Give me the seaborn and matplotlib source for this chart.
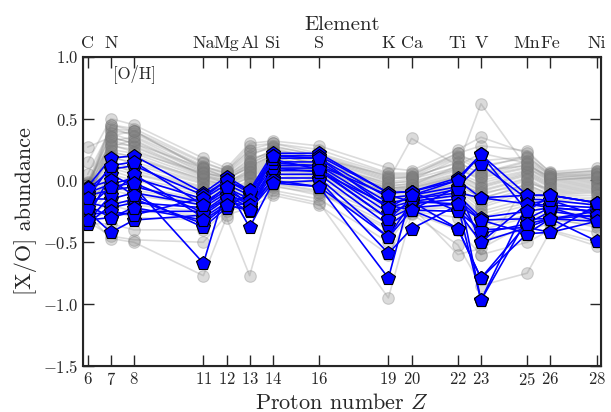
import matplotlib
matplotlib.use("Agg")
import matplotlib.pyplot as plt
import pandas as pd
import seaborn as sns

# Proton numbers and element symbols
proton_z = [6, 7, 8, 11, 12, 13, 14, 16, 19, 20, 22, 23, 25, 26, 28]
elements = ['C', 'N', '', 'Na', 'Mg', 'Al', 'Si', 'S', 'K', 'Ca', 'Ti', 'V', 'Mn', 'Fe', 'Ni']

# Background sample (gray), [X/O] per element
gray_stars = [
    [-0.02, 0.45, 0.42, 0.15, 0.08, 0.25, 0.30, 0.22, 0.05, 0.05, 0.20, 0.10, 0.20, 0.05, 0.08],
    [-0.05, 0.40, 0.38, 0.12, 0.05, 0.20, 0.28, 0.20, 0.02, 0.02, 0.15, 0.05, 0.15, 0.02, 0.05],
    [0.15, 0.50, 0.45, 0.18, 0.10, 0.30, 0.32, 0.28, 0.10, 0.08, 0.25, 0.35, 0.22, 0.07, 0.10],
    [0.27, 0.35, 0.30, 0.10, 0.02, 0.15, 0.25, 0.18, 0.00, 0.34, 0.12, 0.62, 0.10, 0.00, 0.02],
    [-0.08, 0.30, 0.28, 0.05, 0.00, 0.12, 0.20, 0.15, -0.05, -0.02, 0.10, 0.00, 0.08, -0.02, 0.00],
    [-0.10, 0.25, 0.22, 0.02, -0.02, 0.08, 0.18, 0.12, -0.08, -0.05, 0.05, -0.05, 0.05, -0.05, -0.03],
    [-0.12, 0.22, 0.20, 0.00, -0.03, 0.05, 0.15, 0.10, -0.10, -0.08, 0.02, -0.08, 0.02, -0.08, -0.06],
    [-0.15, 0.18, 0.15, -0.02, -0.05, 0.02, 0.12, 0.08, -0.12, -0.10, 0.00, -0.12, 0.00, -0.10, -0.08],
    [-0.05, 0.32, 0.35, 0.08, 0.03, 0.18, 0.22, 0.16, -0.03, 0.00, 0.18, 0.08, 0.12, 0.03, 0.04],
    [-0.18, 0.15, 0.10, -0.05, -0.08, 0.00, 0.10, 0.05, -0.15, -0.12, -0.02, -0.15, -0.03, -0.12, -0.10],
    [-0.20, 0.10, 0.05, -0.08, -0.10, -0.05, 0.08, 0.03, -0.18, -0.14, -0.05, -0.18, -0.06, -0.15, -0.14],
    [-0.22, 0.05, 0.00, -0.12, -0.12, -0.08, 0.05, 0.00, -0.22, -0.16, -0.08, -0.22, -0.10, -0.18, -0.18],
    [-0.25, 0.00, -0.05, -0.15, -0.15, -0.10, 0.03, -0.02, -0.25, -0.18, -0.10, -0.25, -0.15, -0.20, -0.22],
    [-0.28, -0.08, -0.12, -0.20, -0.18, -0.12, 0.00, -0.05, -0.30, -0.20, -0.15, -0.30, -0.20, -0.25, -0.28],
    [-0.30, -0.15, -0.20, -0.25, -0.20, -0.15, -0.02, -0.08, -0.35, -0.22, -0.20, -0.35, -0.25, -0.28, -0.32],
    [-0.32, -0.25, -0.30, -0.32, -0.22, -0.18, -0.05, -0.10, -0.40, -0.24, -0.25, -0.40, -0.30, -0.32, -0.36],
    [-0.35, -0.35, -0.40, -0.40, -0.25, -0.20, -0.08, -0.15, -0.50, -0.25, -0.30, -0.48, -0.40, -0.35, -0.42],
    [-0.33, -0.45, -0.48, -0.50, -0.28, -0.22, -0.12, -0.20, -0.60, -0.26, -0.40, -0.60, -0.50, -0.40, -0.50],
    [-0.28, -0.47, -0.50, -0.77, -0.30, -0.77, -0.10, -0.18, -0.95, -0.27, -0.52, -0.85, -0.75, -0.41, -0.53],
    [0.05, 0.42, 0.40, 0.10, 0.06, 0.22, 0.26, 0.18, 0.04, 0.04, 0.22, 0.12, 0.18, 0.04, 0.06],
    [-0.06, 0.38, 0.32, 0.06, 0.02, 0.10, 0.20, 0.14, -0.04, -0.03, 0.08, 0.02, 0.10, -0.01, 0.01],
    [-0.14, 0.28, 0.25, 0.03, -0.01, 0.06, 0.16, 0.10, -0.06, -0.06, 0.04, -0.04, 0.06, -0.04, -0.02],
    [-0.16, 0.12, 0.08, -0.06, -0.07, -0.02, 0.10, 0.06, -0.14, -0.11, -0.03, -0.10, -0.04, -0.11, -0.09],
    [-0.24, 0.08, 0.02, -0.10, -0.11, -0.06, 0.06, 0.02, -0.20, -0.15, -0.06, -0.20, -0.08, -0.16, -0.16],
    [-0.20, 0.35, 0.30, 0.04, 0.00, 0.14, 0.22, 0.12, -0.06, -0.04, 0.12, 0.22, 0.14, 0.00, 0.03],
    [-0.10, 0.20, 0.18, -0.01, -0.04, 0.04, 0.14, 0.08, -0.09, -0.07, 0.03, -0.60, -0.02, -0.07, -0.05],
    [-0.12, -0.05, -0.10, -0.18, -0.16, -0.12, -0.04, -0.12, -0.28, -0.21, -0.60, -0.55, -0.35, -0.30, -0.38],
    [-0.08, 0.45, 0.40, 0.14, 0.08, 0.28, 0.30, 0.25, 0.06, 0.06, 0.22, 0.28, 0.24, 0.06, 0.08],
    [-0.03, 0.36, 0.40, 0.09, 0.04, 0.16, 0.24, 0.19, 0.01, 0.03, 0.14, 0.06, 0.16, 0.04, 0.05],
    [-0.07, 0.27, 0.33, 0.07, 0.01, 0.11, 0.21, 0.13, -0.02, -0.01, 0.09, 0.03, 0.11, 0.01, 0.02],
    [-0.09, 0.33, 0.27, 0.04, -0.02, 0.09, 0.19, 0.11, -0.07, -0.04, 0.06, -0.02, 0.07, -0.03, -0.01],
    [-0.11, 0.24, 0.18, 0.01, -0.04, 0.07, 0.17, 0.09, -0.09, -0.06, 0.03, -0.06, 0.04, -0.06, -0.04],
    [-0.13, 0.20, 0.13, -0.03, -0.06, 0.03, 0.13, 0.07, -0.11, -0.09, 0.01, -0.09, 0.01, -0.09, -0.07],
    [-0.17, 0.14, 0.06, -0.07, -0.09, -0.03, 0.09, 0.04, -0.16, -0.13, -0.04, -0.14, -0.05, -0.13, -0.12],
    [-0.04, 0.43, 0.36, 0.11, 0.07, 0.24, 0.27, 0.21, 0.03, 0.03, 0.19, 0.16, 0.19, 0.05, 0.07],
    [-0.19, -0.02, -0.08, -0.16, -0.14, -0.09, 0.01, -0.03, -0.27, -0.19, -0.12, -0.27, -0.18, -0.23, -0.25],
    [-0.26, -0.20, -0.25, -0.28, -0.21, -0.16, -0.03, -0.09, -0.38, -0.23, -0.22, -0.37, -0.28, -0.30, -0.34],
    [-0.01, 0.29, 0.23, 0.06, 0.03, 0.13, 0.23, 0.17, -0.01, 0.01, 0.11, 0.04, 0.13, 0.02, 0.03],
]

# Highlighted sample (blue pentagons)
blue_stars = [
    [-0.05, 0.18, 0.20, -0.10, 0.03, -0.08, 0.22, 0.22, -0.10, -0.09, 0.02, 0.21, -0.12, -0.12, -0.18],
    [-0.08, 0.09, 0.12, -0.12, 0.00, -0.10, 0.18, 0.18, -0.14, -0.12, -0.05, 0.13, -0.15, -0.16, -0.20],
    [-0.10, -0.03, 0.02, -0.15, -0.03, -0.12, 0.15, 0.15, -0.18, -0.15, -0.10, -0.14, -0.19, -0.20, -0.22],
    [-0.12, -0.08, -0.05, -0.18, -0.06, -0.15, 0.12, 0.12, -0.22, -0.17, -0.12, -0.30, -0.25, -0.22, -0.25],
    [-0.15, -0.15, -0.10, -0.20, -0.08, -0.18, 0.10, 0.10, -0.26, -0.19, -0.15, -0.32, -0.31, -0.31, -0.28],
    [-0.18, -0.22, -0.18, -0.22, -0.10, -0.20, 0.08, 0.08, -0.31, -0.22, -0.19, -0.43, -0.35, -0.25, -0.30],
    [-0.20, -0.30, -0.25, -0.25, -0.12, -0.22, 0.05, 0.05, -0.36, -0.24, -0.25, -0.50, -0.38, -0.42, -0.33],
    [-0.25, -0.42, -0.32, -0.28, -0.15, -0.25, 0.02, 0.02, -0.46, -0.17, -0.39, -0.79, -0.43, -0.31, -0.49],
    [-0.30, 0.05, -0.05, -0.67, -0.05, -0.38, -0.02, 0.00, -0.59, -0.39, -0.20, -0.97, -0.19, -0.22, -0.25],
    [-0.33, -0.12, 0.05, -0.30, -0.18, -0.20, 0.00, -0.05, -0.79, -0.09, 0.00, -0.14, -0.12, -0.12, -0.18],
    [-0.35, -0.20, -0.15, -0.35, -0.20, -0.24, 0.10, 0.07, -0.20, -0.24, -0.05, -0.97, -0.31, -0.22, -0.33],
    [-0.06, 0.00, -0.12, -0.38, -0.22, -0.10, 0.20, 0.20, -0.10, -0.09, -0.25, -0.40, -0.38, -0.31, -0.25],
    [-0.28, -0.25, -0.28, -0.14, 0.00, -0.08, 0.14, 0.12, -0.12, -0.17, -0.19, -0.32, -0.43, -0.42, -0.20],
    [-0.22, -0.05, -0.02, -0.26, -0.14, -0.16, 0.17, 0.09, -0.31, -0.15, -0.07, -0.50, -0.19, -0.16, -0.28],
    [-0.14, 0.12, 0.15, -0.20, -0.05, -0.20, 0.20, 0.18, -0.22, -0.12, 0.00, 0.21, -0.25, -0.12, -0.18],
    [-0.32, -0.30, -0.22, -0.32, -0.20, -0.24, -0.02, -0.05, -0.46, -0.24, -0.39, -0.79, -0.35, -0.31, -0.33],
]


def to_long(rows):
    records = []
    for i, row in enumerate(rows):
        for z, v in zip(proton_z, row):
            records.append({'star': i, 'Z': z, 'abund': v})
    return pd.DataFrame(records)


df_gray = to_long(gray_stars)
df_blue = to_long(blue_stars)

sns.set_style('ticks')
plt.rcParams['font.family'] = 'serif'
plt.rcParams['font.serif'] = ['cmr10', 'DejaVu Serif']
plt.rcParams['mathtext.fontset'] = 'cm'
plt.rcParams['axes.formatter.use_mathtext'] = True
plt.rcParams['axes.unicode_minus'] = True

fig = plt.figure(figsize=(6.11, 4.12), dpi=100)
ax = fig.add_axes([0.136, 0.112, 0.848, 0.750])

# gray background lines, then their circle markers a bit stronger
sns.lineplot(data=df_gray, x='Z', y='abund', units='star', estimator=None,
             color='gray', alpha=0.28, lw=1.2, ax=ax, legend=False)
sns.scatterplot(data=df_gray, x='Z', y='abund', color='gray', alpha=0.28,
                s=70, edgecolor='dimgray', linewidth=0.8, ax=ax, legend=False)
sns.lineplot(data=df_blue, x='Z', y='abund', units='star', estimator=None,
             color='blue', lw=1.2, marker='p', markersize=10,
             markeredgecolor='black', markeredgewidth=0.8, ax=ax, legend=False)

ax.set_xlim(5.8, 28.2)
ax.set_ylim(-1.5, 1.0)
ax.set_xticks(proton_z)
ax.set_yticks([-1.5, -1.0, -0.5, 0.0, 0.5, 1.0])
ax.set_xlabel('Proton number $Z$', fontsize=16)
ax.set_ylabel('[X/O] abundance', fontsize=16)
ax.tick_params(direction='in', length=8, width=1, labelsize=12,
               right=True, top=False)
for sp in ax.spines.values():
    sp.set_linewidth(1.5)
ax.text(7.1, 0.83, '[O/H]', fontsize=12)

ax2 = ax.twiny()
ax2.set_xlim(ax.get_xlim())
ax2.set_xticks(proton_z)
ax2.set_xticklabels(elements)
ax2.set_xlabel('Element', fontsize=15)
ax2.tick_params(direction='in', length=8, width=1, labelsize=13, pad=4)

fig.savefig('out.png', dpi=100)
